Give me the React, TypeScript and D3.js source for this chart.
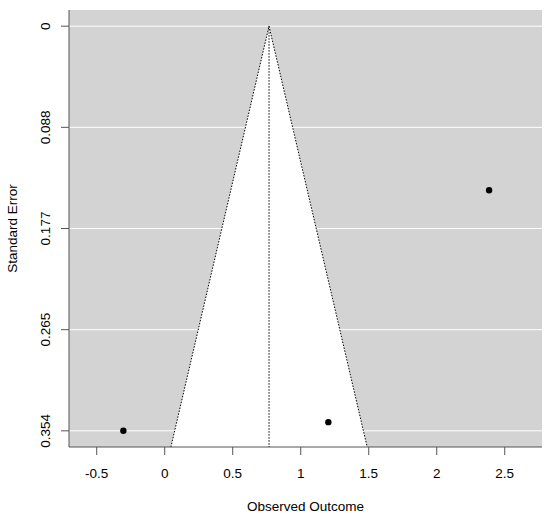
import React from "react";
import * as d3 from "d3";

const estimates = [-0.304, 1.203, 2.385];
const standardErrors = [0.354, 0.3464, 0.1436];
const pooledEstimate = 0.767;
const xTicks = [-0.5, 0, 0.5, 1, 1.5, 2, 2.5];
const xTickLabels = ["-0.5", "0", "0.5", "1", "1.5", "2", "2.5"];
const yTicks = [0, 0.0885, 0.177, 0.2655, 0.354];
const yTickLabels = ["0", "0.088", "0.177", "0.265", "0.354"];

const W = 550, H = 517;
const left = 69, right = 542, top = 10, bottom = 447;
const font = "'Liberation Sans', Arial, sans-serif";

export default function App() {
  const maxSE = d3.max(standardErrors) as number;
  const yPad = maxSE * 0.04;
  const y = d3.scaleLinear().domain([-yPad, maxSE + yPad]).range([top, bottom]);
  const x = d3.scaleLinear().domain([-0.7037, 2.774]).range([left, right]);
  const seBottom = y.invert(bottom);
  const z = 1.96;

  const funnel = d3.line<[number, number]>().x(d => x(d[0])).y(d => y(d[1]));
  const polyPts: [number, number][] = [
    [pooledEstimate - z * seBottom, seBottom],
    [pooledEstimate, 0],
    [pooledEstimate + z * seBottom, seBottom],
  ];

  return (
    <svg width={W} height={H} style={{ position: "absolute", left: 0, top: 0, background: "#fff" }}>
      <rect x={left} y={top} width={right - left} height={bottom - top} fill="#d3d3d3" />
      {yTicks.map((t, i) => (
        <line key={"g" + i} x1={left} x2={right} y1={y(t)} y2={y(t)} stroke="#fff" strokeWidth={1} />
      ))}
      <path d={funnel(polyPts) + "Z"} fill="#fff" stroke="none" />
      <path d={funnel(polyPts) as string} fill="none" stroke="#000" strokeWidth={1} strokeDasharray="1.5,1.5" />
      <line x1={x(pooledEstimate)} x2={x(pooledEstimate)} y1={y(0)} y2={bottom} stroke="#000" strokeWidth={1} strokeDasharray="1.5,1.5" />
      {estimates.map((e, i) => (
        <circle key={"p" + i} cx={x(e)} cy={y(standardErrors[i])} r={3.2} fill="#000" />
      ))}
      <line x1={left} x2={left} y1={top} y2={bottom} stroke="#555" strokeWidth={1} />
      <line x1={left} x2={right} y1={bottom} y2={bottom} stroke="#555" strokeWidth={1} />
      {xTicks.map((t, i) => (
        <g key={"x" + i}>
          <line x1={x(t)} x2={x(t)} y1={bottom} y2={bottom + 8} stroke="#555" />
          <text x={x(t)} y={477.5} textAnchor="middle" fontFamily={font} fontSize={13.5} fill="#000">{xTickLabels[i]}</text>
        </g>
      ))}
      {yTicks.map((t, i) => (
        <g key={"y" + i}>
          <line x1={left - 8} x2={left} y1={y(t)} y2={y(t)} stroke="#555" />
          <text transform={`translate(49.5,${y(t)}) rotate(-90)`} textAnchor="middle" fontFamily={font} fontSize={13.5} fill="#000">{yTickLabels[i]}</text>
        </g>
      ))}
      <text x={(left + right) / 2} y={510.5} textAnchor="middle" fontFamily={font} fontSize={13.5} fill="#000">Observed Outcome</text>
      <text transform={`translate(17,${(top + bottom) / 2}) rotate(-90)`} textAnchor="middle" fontFamily={font} fontSize={13.5} fill="#000">Standard Error</text>
    </svg>
  );
}
